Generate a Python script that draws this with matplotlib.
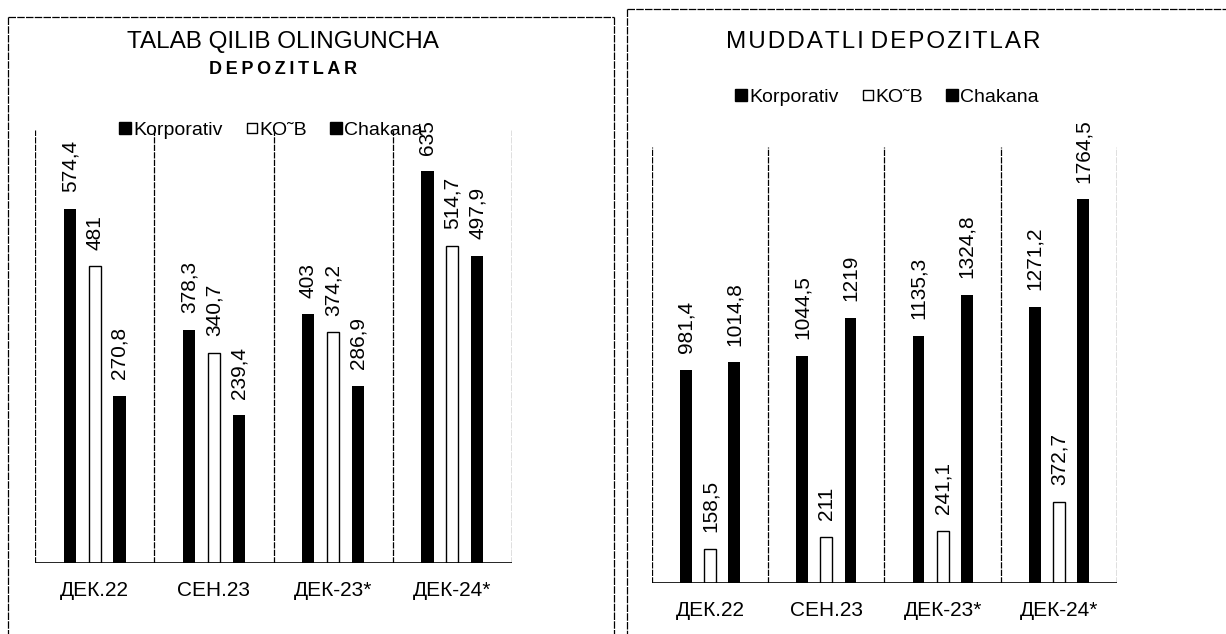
import matplotlib
matplotlib.use("Agg")
import matplotlib.pyplot as plt
import numpy as np
from matplotlib.lines import Line2D

plt.rcParams['font.family'] = ['Liberation Sans', 'DejaVu Sans']

# data
categories = ["ДЕК.22", "СЕН.23", "ДЕК-23*", "ДЕК-24*"]
series = ["Korporativ", "KO˜B", "Chakana"]

talab_korp = [574.4, 378.3, 403, 635]
talab_kob = [481, 340.7, 374.2, 514.7]
talab_chak = [270.8, 239.4, 286.9, 497.9]
talab_labels = [["574,4", "378,3", "403", "635"],
                ["481", "340,7", "374,2", "514,7"],
                ["270,8", "239,4", "286,9", "497,9"]]

mudd_korp = [981.4, 1044.5, 1135.3, 1271.2]
mudd_kob = [158.5, 211, 241.1, 372.7]
mudd_chak = [1014.8, 1219, 1324.8, 1764.5]
mudd_labels = [["981,4", "1044,5", "1135,3", "1271,2"],
               ["158,5", "211", "241,1", "372,7"],
               ["1014,8", "1219", "1324,8", "1764,5"]]

W, H = 1226, 634
fig = plt.figure(figsize=(W / 100, H / 100), dpi=100)
fig.patch.set_facecolor('white')


def px_rect(x0, y0, x1, y1):
    # pixel box (top-left origin) -> figure fraction rect
    return [x0 / W, 1 - y1 / H, (x1 - x0) / W, (y1 - y0) / H]


def draw_panel(ax, vals, labels, ymax):
    x = np.arange(len(categories))
    off = 0.208
    bw = 0.102
    styles = [dict(color='black'),
              dict(facecolor='white', edgecolor='black', linewidth=1.0),
              dict(color='black')]
    for i, v in enumerate(vals):
        bars = ax.bar(x + (i - 1) * off, v, bw, **styles[i], zorder=3)
        for b, t in zip(bars, labels[i]):
            ax.annotate(t, (b.get_x() + b.get_width() / 2, b.get_height()),
                        xytext=(0, 12), textcoords='offset points',
                        rotation=90, ha='center', va='bottom', fontsize=15)
    ax.set_xlim(-0.5, len(categories) - 0.5)
    ax.set_ylim(0, ymax)
    for s in ax.spines.values():
        s.set_visible(False)
    ax.axhline(0, color='black', lw=1.2, zorder=4)
    for xs in np.arange(-0.5, len(categories), 1.0):
        ax.axvline(xs, color='black', lw=0.9, ls=(0, (5, 1)), zorder=1)
    ax.set_yticks([])
    ax.set_xticks(x)
    ax.set_xticklabels(categories, fontsize=15)
    ax.tick_params(axis='x', length=0, pad=13)


ax1 = fig.add_axes(px_rect(35, 130, 512, 563))
draw_panel(ax1, [talab_korp, talab_kob, talab_chak], talab_labels, 702)

ax2 = fig.add_axes(px_rect(652, 147, 1117, 583))
draw_panel(ax2, [mudd_korp, mudd_kob, mudd_chak], mudd_labels, 2005)

# titles
fig.text(283 / W, 1 - 42 / H, "TALAB QILIB OLINGUNCHA", ha='center', va='center', fontsize=17.5)
fig.text(283 / W, 1 - 70 / H, "D\u2009E\u2009P\u2009O\u2009Z\u2009I\u2009T\u2009L\u2009A\u2009R",
         ha='center', va='center', fontsize=13, fontweight='bold')
fig.text(883 / W, 1 - 42 / H, "M\u200aU\u200aD\u200aD\u200aA\u200aT\u200aL\u200aI D\u200aE\u200aP\u200aO\u200aZ\u200aI\u200aT\u200aL\u200aA\u200aR",
         ha='center', va='center', fontsize=17.5)

# legends
handles = [Line2D([], [], marker='s', ls='none', color='black', markersize=8),
           Line2D([], [], marker='s', ls='none', markerfacecolor='white',
                  markeredgecolor='black', markersize=7),
           Line2D([], [], marker='s', ls='none', color='black', markersize=8)]
for cx, cy in [(271, 130), (887, 97)]:
    fig.legend(handles, series, loc='center', bbox_to_anchor=(cx / W, 1 - cy / H),
               ncol=3, frameon=False, fontsize=14, handlelength=0.6,
               handletextpad=0.1, columnspacing=1.2)

# dashed panel frames
frame = dict(color='black', lw=0.9, ls=(0, (6, 1)))
fig.add_artist(Line2D([8 / W, 614 / W], [1 - 17 / H, 1 - 17 / H], **frame))
fig.add_artist(Line2D([8 / W, 8 / W], [1 - 17 / H, 0], **frame))
fig.add_artist(Line2D([614 / W, 614 / W], [1 - 17 / H, 0], **frame))
fig.add_artist(Line2D([627 / W, 1226 / W], [1 - 9 / H, 1 - 9 / H], **frame))
fig.add_artist(Line2D([627 / W, 627 / W], [1 - 9 / H, 0], **frame))

fig.savefig("out.png", dpi=100)
